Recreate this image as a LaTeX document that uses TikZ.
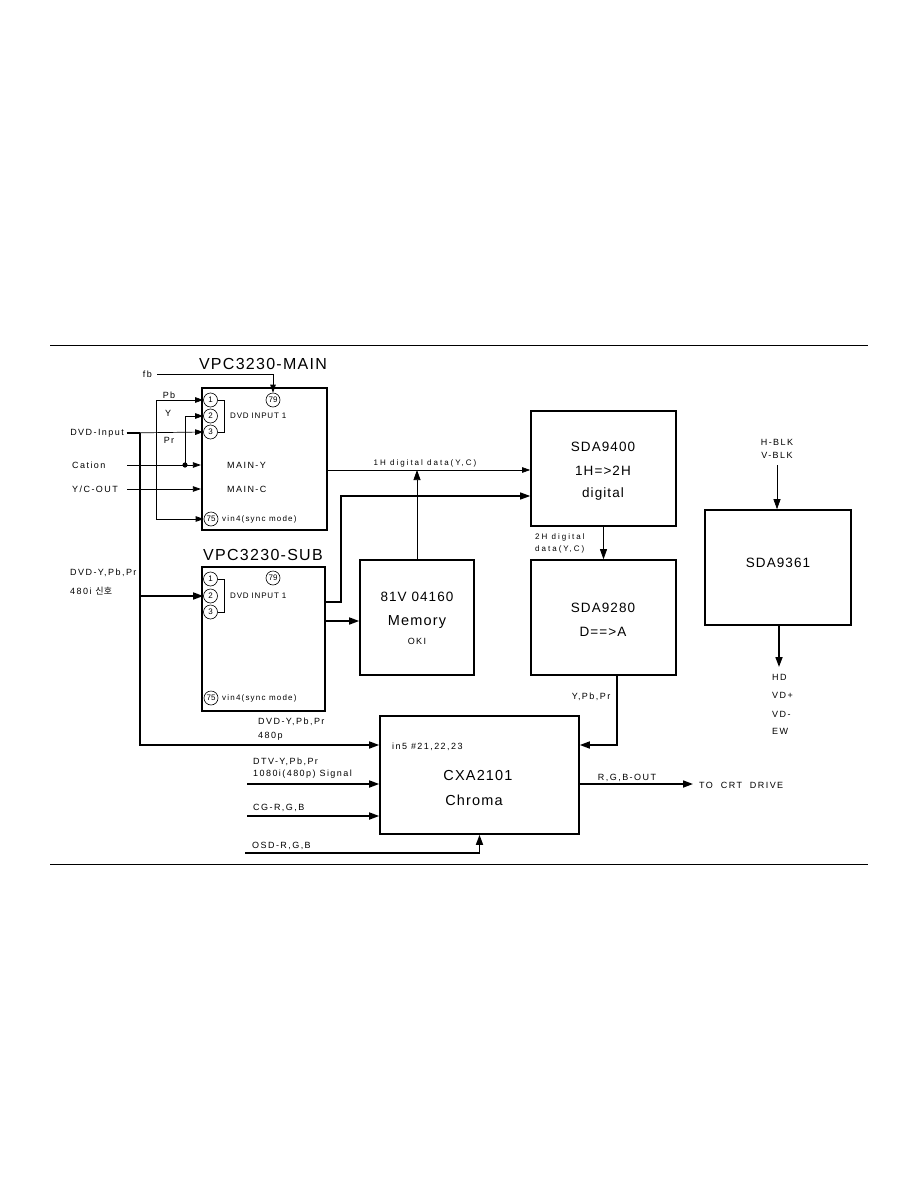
\documentclass[tikz,border=0pt]{standalone}
\usepackage{fontspec}
\setmainfont{Liberation Sans}
\newfontfamily\lbl[LetterSpace=16]{Liberation Sans}
\newfontfamily\dlbl[LetterSpace=25]{Liberation Sans}
\newfontfamily\sml[LetterSpace=10]{Liberation Sans}
\newfontfamily\vml[LetterSpace=15]{Liberation Sans}
\newfontfamily\ttl[LetterSpace=8]{Liberation Sans}
\newfontfamily\kr{Noto Sans CJK KR}
\usetikzlibrary{arrows.meta,calc}
\begin{document}
\begin{tikzpicture}[x=1pt,y=-1pt,
  box/.style={draw,line width=1.6pt,inner sep=0},
  vbox/.style={draw,line width=2.2pt,inner sep=0},
  lab/.style={font=\lbl\fontsize{9}{10}\selectfont,inner sep=0},
  dlab/.style={font=\dlbl\fontsize{8}{9}\selectfont,inner sep=0},
  sm/.style={font=\sml\fontsize{8}{9}\selectfont,inner sep=0},
  vm/.style={font=\vml\fontsize{8}{9}\selectfont,inner sep=0},
  big/.style={font=\ttl\fontsize{13.5}{15}\selectfont,inner sep=0},
  bigger/.style={font=\ttl\fontsize{14.5}{16}\selectfont,inner sep=0},
  ttlf/.style={font=\ttl\fontsize{16}{18}\selectfont,inner sep=0},
  pinc/.style={draw,circle,line width=0.6pt,minimum size=14pt,inner sep=0,font=\fontsize{8}{8}\selectfont},
  wire/.style={line width=0.7pt},
  fat/.style={line width=1.6pt},
  arr/.style={-{Triangle[length=8pt,width=5.5pt]}},
  farr/.style={-{Triangle[length=10pt,width=7pt]}},
]
\useasboundingbox (0,0) rectangle (918,1188);

% rules
\coordinate (rtl) at (50,345); \coordinate (rtr) at (868,345);
\coordinate (rbl) at (50,864); \coordinate (rbr) at (868,864);
\draw[line width=0.8pt] (rtl) -- (rtr);
\draw[line width=0.8pt] (rbl) -- (rbr);

% helper coordinates (rows / columns)
\coordinate (y470) at (0,470);
\coordinate (y496) at (0,496);
\coordinate (y602) at (0,602);
\coordinate (y621) at (0,621);
\coordinate (y745) at (0,745);
\coordinate (y784) at (0,784);
\coordinate (y816) at (0,816);
\coordinate (x617) at (617,0);

% boxes
\node[vbox,minimum width=125pt,minimum height=142pt] (main) at (264.5,459) {};
\node[vbox,minimum width=123pt,minimum height=144pt] (sub) at (263.5,639) {};
\node[box,minimum width=114pt,minimum height=115pt] (mem) at (417,617.5) {};
\node[box,minimum width=145pt,minimum height=115pt] (s94) at (603.5,468.5) {};
\node[box,minimum width=145pt,minimum height=115pt] (s92) at (603.5,617.5) {};
\node[box,minimum width=146pt,minimum height=115pt] (s36) at (778,567.5) {};
\node[box,minimum width=199pt,minimum height=118pt] (cxa) at (479.5,775) {};

% titles
\node[ttlf] (tmain) at (263,364) {VPC3230-MAIN};
\node[ttlf] (tsub) at (263,555) {VPC3230-SUB};

% main box contents
\node[pinc] (c1) at (210.5,400) {1};
\node[pinc] (c2) at (210.5,416) {2};
\node[pinc] (c3) at (210.5,432) {3};
\node[pinc] (c79) at (273,400) {79};
\node[pinc] (c75) at (211,519) {75};
\draw[wire] (c1.east) -- ++(7,0) |- (c3.east);
\node[sm,anchor=west] (dvdin1) at (230,416) {DVD INPUT 1};
\node[lab,anchor=west] (mainy) at (227,465) {MAIN-Y};
\node[lab,anchor=west] (mainc) at (227,489) {MAIN-C};
\node[vm,anchor=west] (vin4) at (222,519) {vin4(sync mode)};

% sub box contents
\node[pinc] (d1) at (210.5,579) {1};
\node[pinc] (d2) at (210.5,596) {2};
\node[pinc] (d3) at (210.5,612) {3};
\node[pinc] (d79) at (273,578) {79};
\node[pinc] (d75) at (211,698) {75};
\draw[wire] (d1.east) -- ++(7,0) |- (d3.east);
\node[sm,anchor=west] (dvdin2) at (230,596) {DVD INPUT 1};
\node[vm,anchor=west] (vin4b) at (222,698) {vin4(sync mode)};

% left inputs
\node[lab,anchor=east] (fb) at (152,374) {fb};
\coordinate (fbs) at (157,374);
\draw[wire,arr] (fbs) -| (c79.north);

\node[lab] (pb) at (169,395) {Pb};
\node[lab] (ylab) at (168,413) {Y};
\node[lab] (pr) at (169,440) {Pr};

\coordinate (pbv) at (156,400);
\draw[wire,arr] (pbv) -- (c1.west);
\draw[wire,arr] (pbv) |- (c75.west);

\node[lab,anchor=east] (dvdinput) at (124,433) {DVD-Input};
\coordinate (ds) at (127,433);
\coordinate (dj) at (140,433);
\draw[wire,arr] (ds) -- (c3.west);
\draw[fat] (ds) -- (dj);
\draw[fat,farr] (dj) |- (cxa.west |- y745);
\draw[fat,farr] (dj |- d2.west) -- (d2.west);

\node[lab,anchor=west] (cation) at (72,465) {Cation};
\coordinate (cs) at (127,465);
\coordinate (yj) at (185,465);
\draw[wire,arr] (cs) -- (main.west |- cs);
\draw[wire,arr] (yj) |- (c2.west);
\fill (yj) circle (2.6);

\node[lab,anchor=west] (ycout) at (72,489) {Y/C-OUT};
\coordinate (ys) at (127,489);
\draw[wire,arr] (ys) -- (main.west |- ys);

\node[lab,anchor=west] (dvdyi) at (70,573) {DVD-Y,Pb,Pr};
\node[lab,anchor=west] (i480) at (70,591) {480i {\kr 신호}};

% middle connections
\node[dlab] (l1h) at (425,463) {1H digital data(Y,C)};
\draw[wire,arr] (main.east |- y470) -- (s94.west |- y470);
\draw[wire,farr] (mem.north) -- (mem.north |- y470);
\coordinate (bend) at (341,496);
\draw[line width=1.2pt,farr] (sub.east |- y602) -| (bend) -- (s94.west |- bend);
\draw[fat,farr] (sub.east |- y621) -- (mem.west |- y621);

% memory
\node[big] (m1) at (417,597) {81V 04160};
\node[bigger] (m2) at (417,622) {Memory};
\node[lab] (m3) at (417,641) {OKI};

% SDA9400
\node[big] (a1) at (603,447) {SDA9400};
\node[big] (a2) at (603,471) {1H=>2H};
\node[big] (a3) at (603,494) {digital};
\draw[wire,farr] (s94.south) -- (s92.north);
\node[dlab,anchor=west] (l2h) at (535,537) {2H digital};
\node[dlab,anchor=west] (l2hb) at (535,549) {data(Y,C)};

% SDA9280
\node[big] (b1) at (603,608) {SDA9280};
\node[big] (b2) at (603,632) {D==>A};
\node[lab] (ypbpr) at (591,697) {Y,Pb,Pr};
\draw[fat,farr] (s92.south -| x617) |- (cxa.east |- y745);

% SDA9361
\node[lab] (hblk) at (777,442) {H-BLK};
\node[lab] (vblk) at (777,455) {V-BLK};
\coordinate (hv) at (777,465);
\draw[wire,farr] (hv) -- (hv |- s36.north);
\node[big] (c361) at (778,563) {SDA9361};
\coordinate (outd) at (779,667);
\draw[fat,farr] (s36.south -| outd) -- (outd);
\node[lab,anchor=west] (hd) at (772,677) {HD};
\node[lab,anchor=west] (vdp) at (772,695) {VD+};
\node[lab,anchor=west] (vdm) at (772,714) {VD-};
\node[lab,anchor=west] (ew) at (772,731) {EW};

% CXA2101
\node[lab,anchor=west] (in5) at (392,747) {in5 \#21,22,23};
\node[bigger] (x1) at (478,775) {CXA2101};
\node[bigger] (x2) at (474,800) {Chroma};

\node[lab,anchor=west] (dvdp1) at (258,722) {DVD-Y,Pb,Pr};
\node[lab,anchor=west] (dvdp2) at (258,736) {480p};

\node[lab,anchor=west] (dtv1) at (253,762) {DTV-Y,Pb,Pr};
\node[lab,anchor=west] (dtv2) at (253,774) {1080i(480p) Signal};
\coordinate (dtvs) at (247,784);
\draw[fat,farr] (dtvs) -- (cxa.west |- dtvs);

\node[lab,anchor=west] (cg) at (253,808) {CG-R,G,B};
\coordinate (cgs) at (247,816);
\draw[fat,farr] (cgs) -- (cxa.west |- cgs);

\node[lab,anchor=west] (osd) at (252,846) {OSD-R,G,B};
\coordinate (osds) at (245,853);
\draw[fat,farr] (osds) -| (cxa.south);

\node[lab] (rgbout) at (627,778) {R,G,B-OUT};
\node[lab,anchor=west] (crt) at (699,785) {TO\ \ CRT\ \ DRIVE};
\coordinate (crtin) at (693,784);
\draw[fat,farr] (cxa.east |- y784) -- (crtin);
\end{tikzpicture}
\end{document}
